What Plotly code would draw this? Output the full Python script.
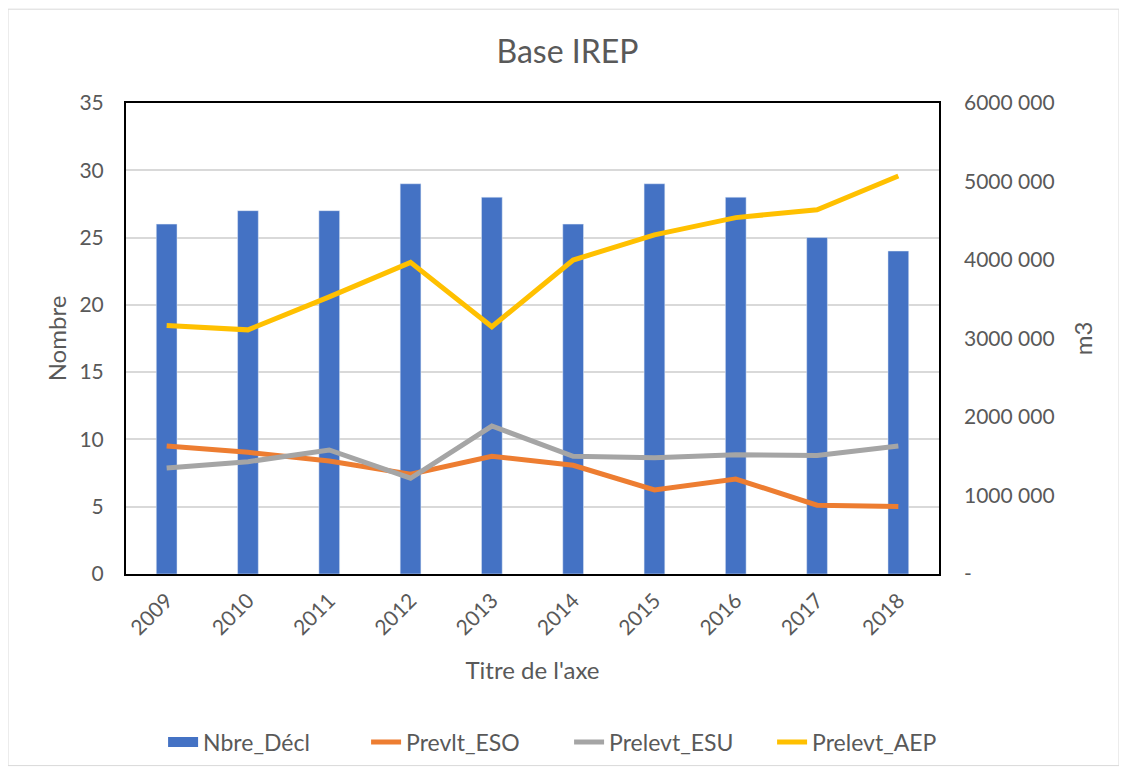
import plotly.graph_objects as go

years = ["2009", "2010", "2011", "2012", "2013", "2014", "2015", "2016", "2017", "2018"]
nbre_decl = [26, 27, 27, 29, 28, 26, 29, 28, 25, 24]
prevlt_eso = [1630000, 1550000, 1440000, 1270000, 1500000, 1385000, 1070000, 1210000, 877000, 860000]
prelevt_esu = [1350000, 1430000, 1580000, 1220000, 1885000, 1500000, 1480000, 1520000, 1510000, 1630000]
prelevt_aep = [3165000, 3110000, 3530000, 3970000, 3150000, 4000000, 4320000, 4540000, 4640000, 5070000]

right_ticks = [0, 1000000, 2000000, 3000000, 4000000, 5000000, 6000000]
right_labels = ["-", "1000 000", "2000 000", "3000 000", "4000 000", "5000 000", "6000 000"]

FONT = "Lato, 'Liberation Sans Narrow', sans-serif"
GREY = "#595959"
BLUE = "#4472C4"

fig = go.Figure()
fig.add_trace(go.Bar(x=years, y=nbre_decl, name="Nbre_Décl", marker_color=BLUE,
                     yaxis="y", showlegend=False, legendgroup="nb"))
# legend swatch drawn as a wide bar like the original
fig.add_trace(go.Scatter(x=[None], y=[None], name="Nbre_Décl", mode="lines",
                         line=dict(color=BLUE, width=12), legendgroup="nb"))
fig.add_trace(go.Scatter(x=years, y=prevlt_eso, name="Prevlt_ESO", mode="lines",
                         line=dict(color="#ED7D31", width=5), yaxis="y2"))
fig.add_trace(go.Scatter(x=years, y=prelevt_esu, name="Prelevt_ESU", mode="lines",
                         line=dict(color="#A5A5A5", width=5), yaxis="y2"))
fig.add_trace(go.Scatter(x=years, y=prelevt_aep, name="Prelevt_AEP", mode="lines",
                         line=dict(color="#FFC000", width=5), yaxis="y2"))

# page body has an 8px margin, so the figure is laid out 8px smaller
fig.update_layout(
    width=1119, height=766,
    paper_bgcolor="white", plot_bgcolor="white",
    font=dict(family=FONT, color=GREY, size=21),
    title=dict(text="Base IREP", x=0.5, xanchor="center", y=0.943, yanchor="middle",
               font=dict(size=32, color=GREY)),
    margin=dict(l=118, r=188, t=95, b=199),
    bargap=0.745,
    xaxis=dict(title=dict(text="Titre de l'axe", font=dict(size=24), standoff=24),
               tickangle=-45, showline=True, linecolor="black", linewidth=2,
               mirror=True, ticks="", tickfont=dict(size=21), automargin=False,
               ticklabelstandoff=4),
    yaxis=dict(title=dict(text="Nombre", font=dict(size=24), standoff=6),
               range=[0, 35], dtick=5, showgrid=True, gridcolor="#D9D9D9", gridwidth=1.5,
               showline=True, linecolor="black", linewidth=2, mirror=True,
               zeroline=False, ticks="", tickfont=dict(size=21), automargin=False,
               ticklabelstandoff=16),
    yaxis2=dict(title=dict(text="m3", font=dict(size=24), standoff=21),
                overlaying="y", side="right", range=[0, 6000000],
                tickvals=right_ticks, ticktext=right_labels, showgrid=False,
                zeroline=False, ticks="", tickfont=dict(size=21), automargin=False,
                ticklabelstandoff=24),
    legend=dict(orientation="h", x=0.545, xanchor="center", y=-0.354, yanchor="middle",
                font=dict(size=23), entrywidth=158, entrywidthmode="pixels",
                traceorder="normal"),
    shapes=[dict(type="rect", xref="paper", yref="paper",
                 x0=-118 / 813, x1=(1119 - 126) / 813, y0=-(767 - 575) / 472, y1=(575 - 9) / 472,
                 line=dict(color="#D9D9D9", width=1), fillcolor="rgba(0,0,0,0)", layer="below")],
)

fig.write_html("out.html")
